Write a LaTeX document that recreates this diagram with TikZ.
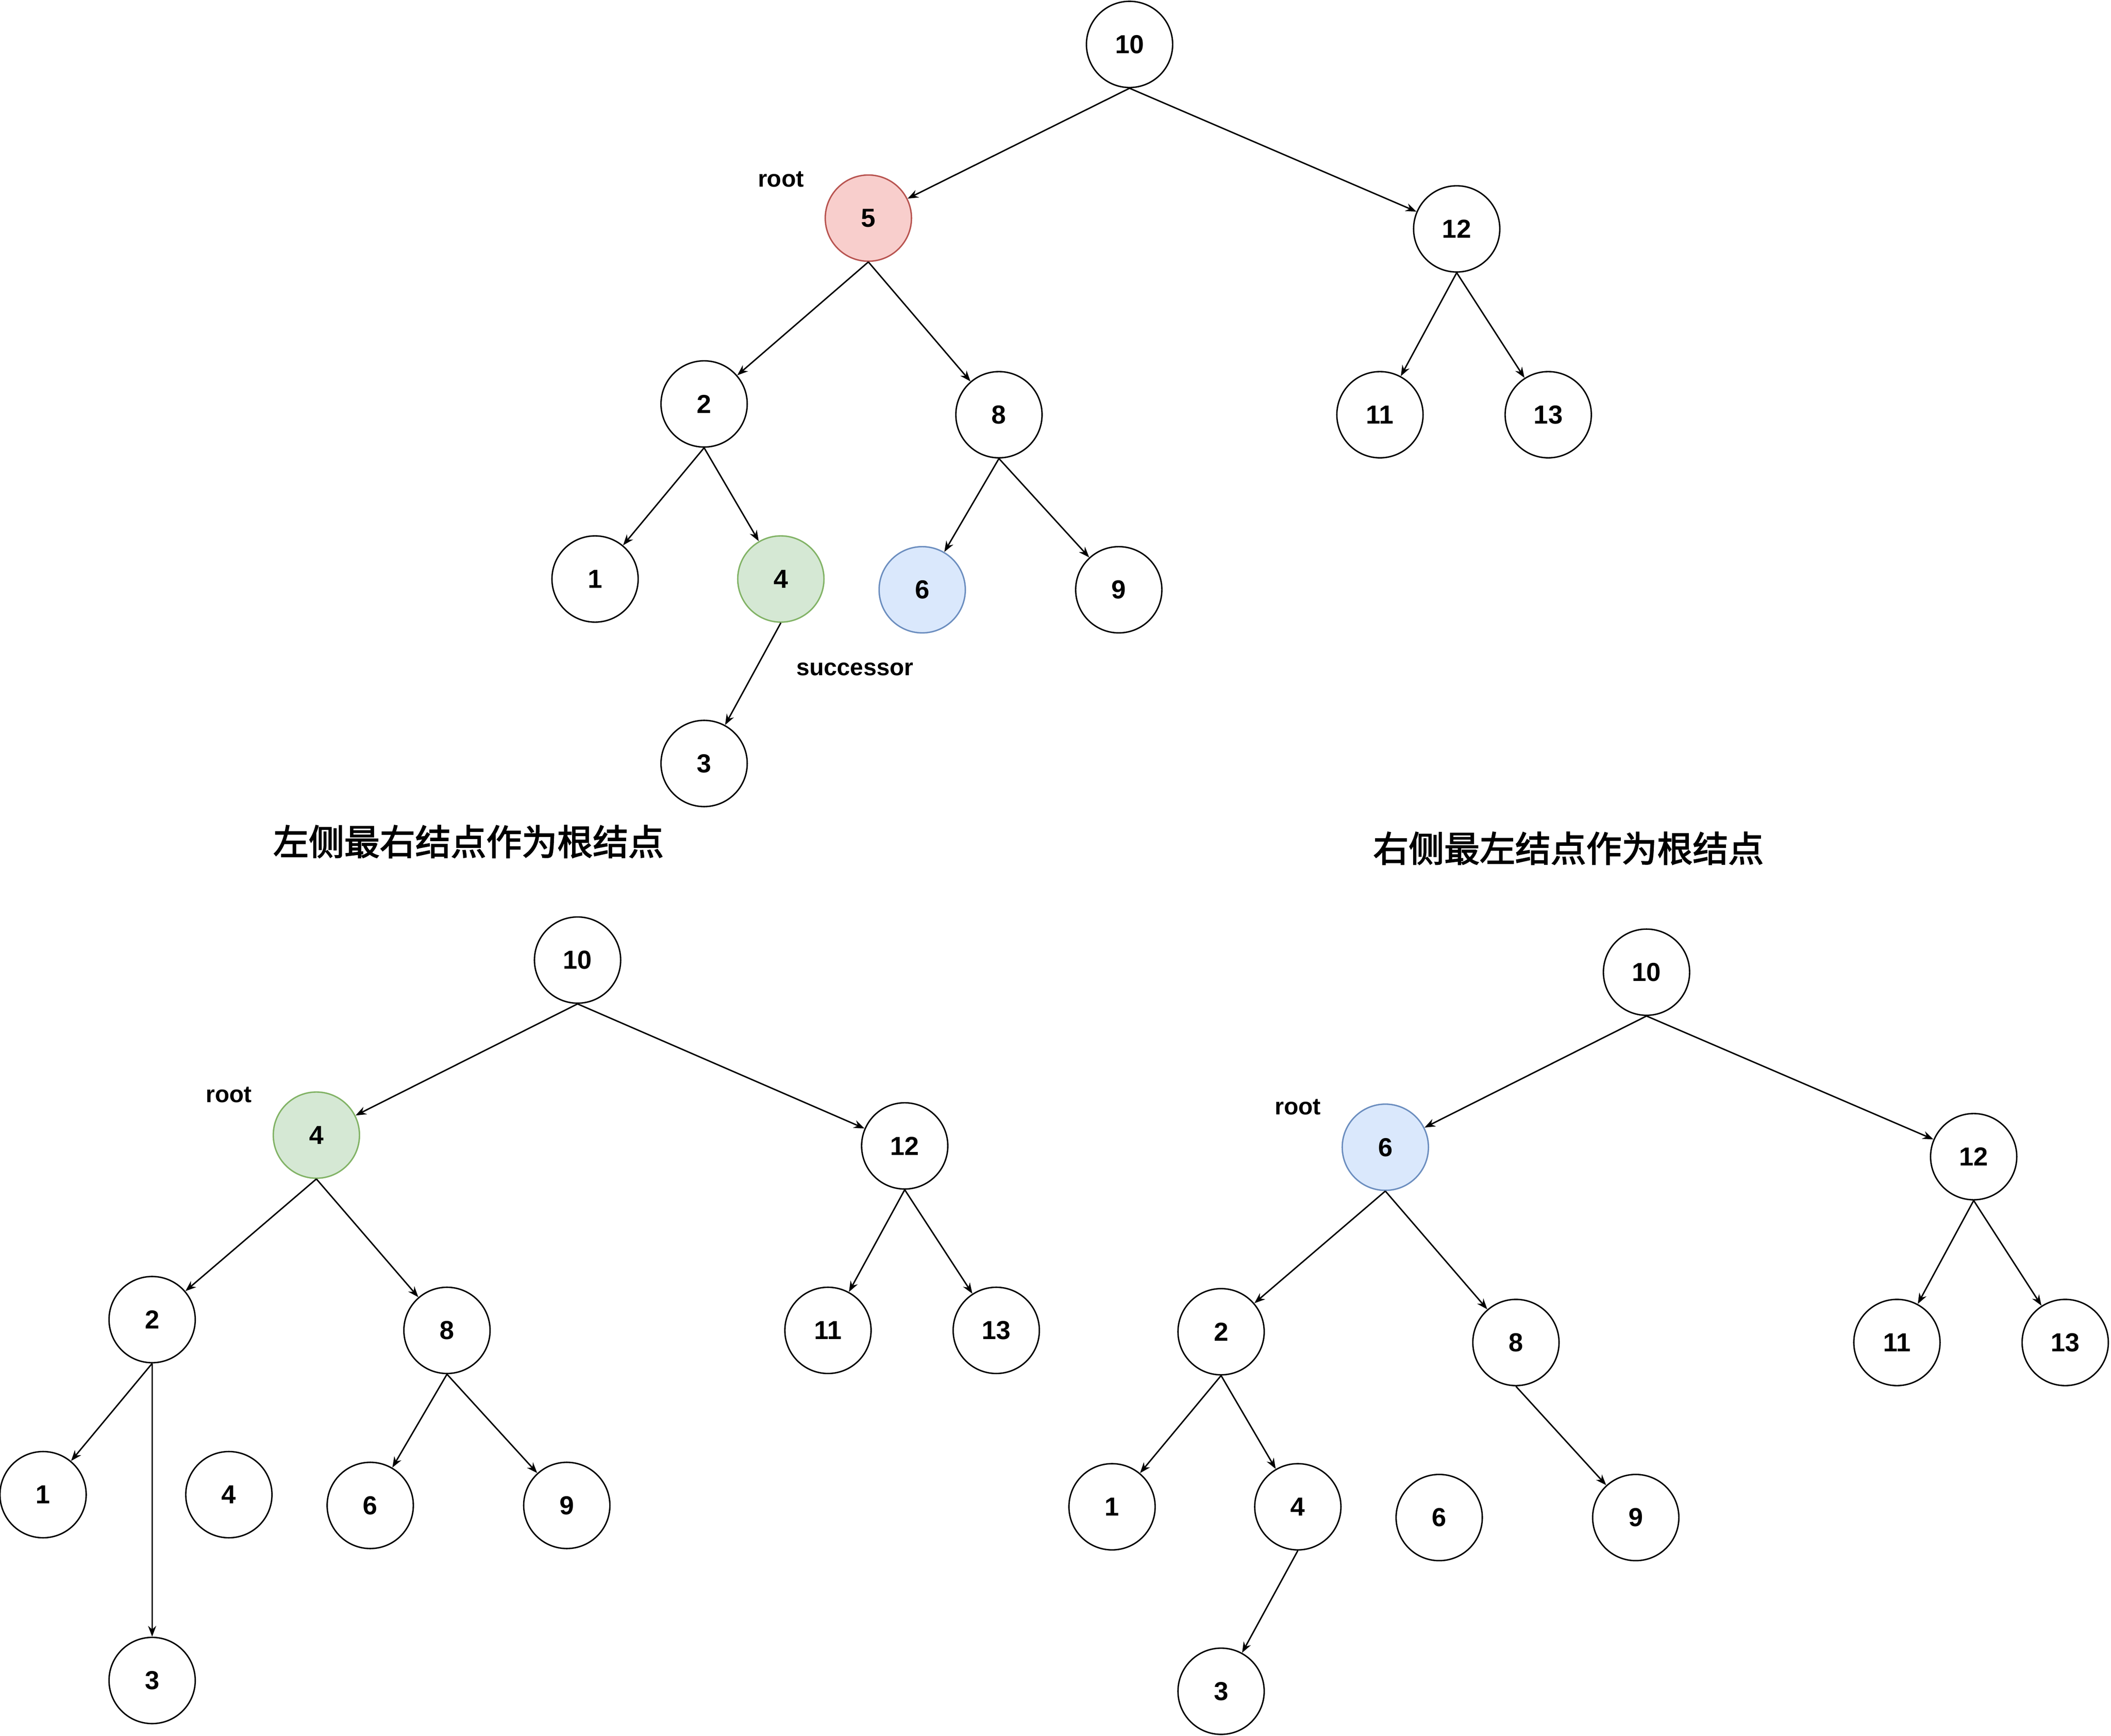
\documentclass[tikz,border=0pt]{standalone}
\usepackage{fontspec}
\setmainfont{Liberation Sans}
\newfontfamily\cjk[FakeBold=2.5]{Noto Sans CJK SC}
\usetikzlibrary{arrows.meta}
\definecolor{redf}{HTML}{F8CECC}\definecolor{redd}{HTML}{B85450}
\definecolor{grnf}{HTML}{D5E8D4}\definecolor{grnd}{HTML}{82B366}
\definecolor{bluf}{HTML}{DAE8FC}\definecolor{blud}{HTML}{6C8EBF}
\tikzset{
 nd/.style={circle,draw,line width=0.3pt,minimum size=0.64cm,inner sep=0pt,font=\fontsize{5.5}{6}\selectfont\bfseries},
 rednd/.style={nd,fill=redf,draw=redd},
 grnnd/.style={nd,fill=grnf,draw=grnd},
 blund/.style={nd,fill=bluf,draw=blud},
 lbl/.style={font=\fontsize{5}{6}\selectfont\bfseries},
 ttl/.style={font=\fontsize{7.5}{9}\selectfont\cjk},
 ar/.style={-{Stealth[length=0.8mm,width=0.6mm]},line width=0.3pt}
}
\begin{document}
\begin{tikzpicture}[x=0.01cm,y=-0.01cm]
\useasboundingbox (0,0) rectangle (1568,1289);
% top tree
\node[nd] (a10) at (839,33) {10};
\node[rednd] (a5) at (645,162) {5};
\node[nd] (a12) at (1082,170) {12};
\node[nd] (a2) at (523,300) {2};
\node[nd] (a8) at (742,308) {8};
\node[nd] (a11) at (1025,308) {11};
\node[nd] (a13) at (1150,308) {13};
\node[nd] (a1) at (442,430) {1};
\node[grnnd] (a4) at (580,430) {4};
\node[blund] (a6) at (685,438) {6};
\node[nd] (a9) at (831,438) {9};
\node[nd] (a3) at (523,567) {3};
\node[lbl] (ar) at (580,133) {root};
\node[lbl] (as) at (635,497) {successor};
\foreach \p/\c in {a10/a5,a10/a12,a5/a2,a5/a8,a12/a11,a12/a13,a2/a1,a2/a4,a8/a6,a8/a9,a4/a3}
  \draw[ar] (\p.south) -- (\c);
% titles
\node[ttl] (t1) at (348,625) {左侧最右结点作为根结点};
\node[ttl] (t2) at (1165,630) {右侧最左结点作为根结点};
% bottom left
\node[nd] (b10) at (429,713) {10};
\node[grnnd] (b4) at (235,843) {4};
\node[nd] (b12) at (672,851) {12};
\node[nd] (b2) at (113,980) {2};
\node[nd] (b8) at (332,988) {8};
\node[nd] (b11) at (615,988) {11};
\node[nd] (b13) at (740,988) {13};
\node[nd] (b1) at (32,1110) {1};
\node[nd] (b4x) at (170,1110) {4};
\node[nd] (b6) at (275,1118) {6};
\node[nd] (b9) at (421,1118) {9};
\node[nd] (b3) at (113,1248) {3};
\node[lbl] (br) at (170,813) {root};
\foreach \p/\c in {b10/b4,b10/b12,b4/b2,b4/b8,b12/b11,b12/b13,b2/b1,b2/b3,b8/b6,b8/b9}
  \draw[ar] (\p.south) -- (\c);
% bottom right
\node[nd] (c10) at (1223,722) {10};
\node[blund] (c6) at (1029,852) {6};
\node[nd] (c12) at (1466,859) {12};
\node[nd] (c2) at (907,989) {2};
\node[nd] (c8) at (1126,997) {8};
\node[nd] (c11) at (1409,997) {11};
\node[nd] (c13) at (1534,997) {13};
\node[nd] (c1) at (826,1119) {1};
\node[nd] (c4) at (964,1119) {4};
\node[nd] (c6x) at (1069,1127) {6};
\node[nd] (c9) at (1215,1127) {9};
\node[nd] (c3) at (907,1256) {3};
\node[lbl] (cr) at (964,822) {root};
\foreach \p/\c in {c10/c6,c10/c12,c6/c2,c6/c8,c12/c11,c12/c13,c2/c1,c2/c4,c4/c3,c8/c9}
  \draw[ar] (\p.south) -- (\c);
\end{tikzpicture}
\end{document}
